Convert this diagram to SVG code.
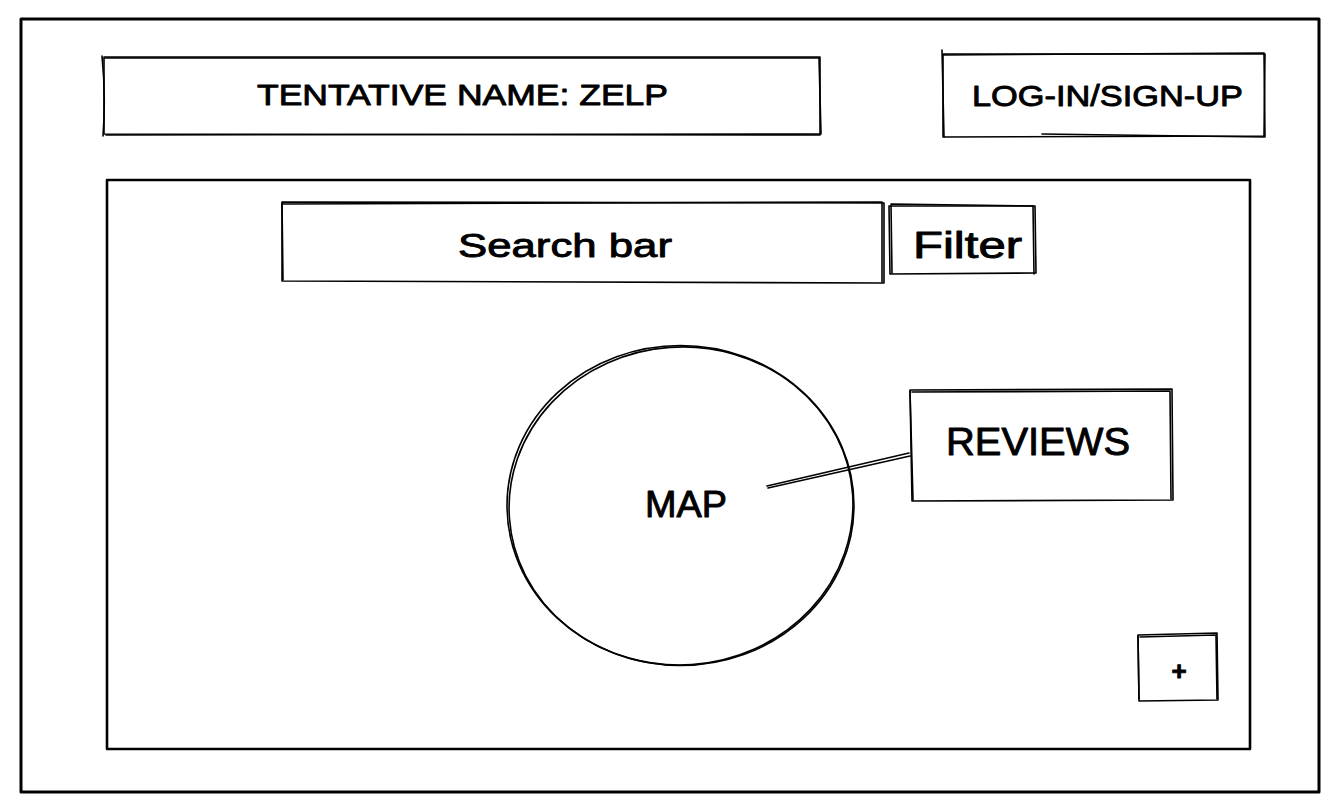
<svg xmlns="http://www.w3.org/2000/svg" width="1338" height="812" viewBox="0 0 1338 812">
<style>
.s{fill:none;stroke:#000;stroke-width:1.6;stroke-linecap:round;stroke-linejoin:round}
.b{fill:none;stroke:#000;stroke-width:3;stroke-linecap:round;stroke-linejoin:round}
.m{fill:none;stroke:#000;stroke-width:2.6;stroke-linecap:round;stroke-linejoin:round}
.t{font-family:"Liberation Sans","DejaVu Sans",sans-serif;fill:#000;stroke:#000;stroke-width:0.9;stroke-linejoin:round}
</style>
<rect width="1338" height="812" fill="#fff"/>
<g id="frame">
<path class="b" d="M21 19 L1319 19 L1319 792 L21 792 Z"/>
</g>
<g id="title">
<path class="s" d="M104 57 L820 57 L820 135 L104 134 Z"/>
<path class="s" d="M102 56 Q106 95 103 136 M105 58 L819 58 L821 134 L106 135"/>
<text class="t" x="257" y="105" font-size="30" textLength="411" lengthAdjust="spacingAndGlyphs">TENTATIVE NAME: ZELP</text>
</g>
<g id="login">
<path class="s" d="M943 54 L1265 54 L1264 136 L943 137 Z"/>
<path class="s" d="M942 50 L944 137 M942 55 L1264 53 L1265 137 L1042 134"/>
<text class="t" x="972" y="106" font-size="29" textLength="271" lengthAdjust="spacingAndGlyphs">LOG-IN/SIGN-UP</text>
</g>
<g id="main">
<path class="m" d="M107 180 L1250 180 L1250 749 L107 749 Z"/>
</g>
<g id="search">
<path class="s" d="M282 202 L884 203 L884 283 L282 281 Z"/>
<path class="s" d="M283 204 L882 202 L882 282 M282 203 L283 280"/>
<text class="t" x="458" y="257" font-size="34" textLength="214" lengthAdjust="spacingAndGlyphs">Search bar</text>
</g>
<g id="filter">
<path class="s" d="M889 206 L1035 206 L1036 273 L890 274 Z"/>
<path class="s" d="M891 204 L1033 206 L1034 274 M891 205 L892 273"/>
<text class="t" x="913" y="258" font-size="36" textLength="109" lengthAdjust="spacingAndGlyphs">Filter</text>
</g>
<g id="map">
<ellipse class="s" cx="680.5" cy="505.5" rx="173.5" ry="160"/>
<ellipse class="s" cx="681" cy="506" rx="172" ry="159" transform="rotate(-4 681 506)"/>
<text class="t" x="645" y="517" font-size="36" textLength="82" lengthAdjust="spacingAndGlyphs">MAP</text>
</g>
<g id="reviews">
<path class="s" d="M910 390 L1172 389 L1173 500 L912 501 Z"/>
<path class="s" d="M912 392 L1170 391 L1171 499 M910 391 L913 500"/>
<text class="t" x="946" y="455" font-size="38" textLength="184" lengthAdjust="spacingAndGlyphs">REVIEWS</text>
</g>
<g id="add">
<path class="s" d="M1138 635 L1217 633 L1218 700 L1139 701 Z"/>
<path class="s" d="M1140 637 L1216 635 L1217 699 M1138 636 L1139 699"/>
<text class="t" x="1179" y="680" font-size="26" font-weight="bold" text-anchor="middle">+</text>
</g>
<g id="connectors">
<path class="s" d="M767 486 L909 453"/>
<path class="s" d="M768 488 L910 456"/>
</g>
</svg>
